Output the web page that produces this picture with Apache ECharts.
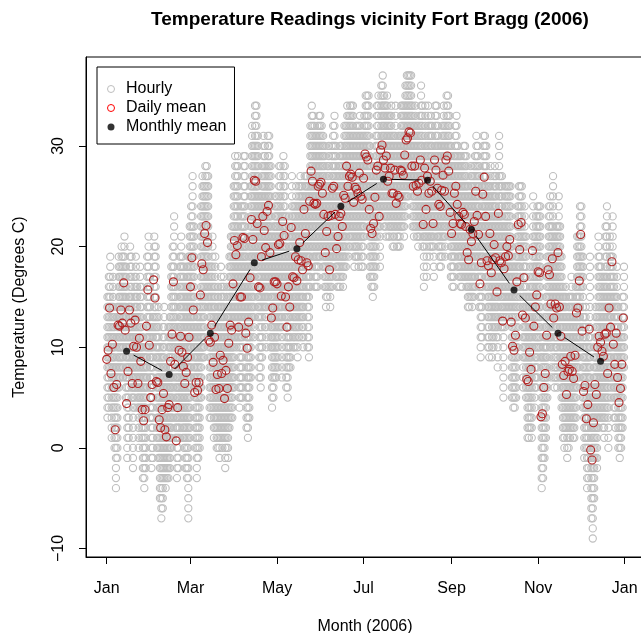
<!DOCTYPE html>
<html><head><meta charset="utf-8">
<script src="https://cdn.jsdelivr.net/npm/echarts@6/dist/echarts.min.js"></script>
<style>html,body{margin:0;padding:0;background:#fff}#c{width:641px;height:633px}</style>
</head><body><div id="c"></div>
<script>
// ---- axis tick data ----
const monthTickDays = [0, 59, 120, 181, 243, 304, 365];
const monthTickLabels = ['Jan', 'Mar', 'May', 'Jul', 'Sep', 'Nov', 'Jan'];
const yTicks = [-10, 0, 10, 20, 30];
const yTickLabels = ['\u221210', '0', '10', '20', '30'];

// ---- monthly means (plotted on the 15th, day-of-year index) ----
const monthlyDay = [14, 44, 73, 104, 134, 165, 195, 226, 257, 287, 318, 348];
const monthlyMean = [9.6, 7.3, 11.4, 18.4, 19.8, 24.0, 26.7, 26.6, 21.7, 15.7, 11.4, 8.6];

// ---- daily means, day index 0 = Jan 1 2006 ----
const dailyMean = [
 8.8,9.7,13.9,7.4,10.3,6.0,1.8,6.3,12.2,12.1, 13.7,12.4,16.4,11.7,4.4,7.6,13.7,12.4,6.4,10.1, 12.7,10.0,6.4,10.9,8.6,3.8,2.7,3.8,12.1,15.7, 10.2,
 5.0,6.3,16.7,14.9,6.6,6.5,2.8,2.0,3.8,5.4, 1.8,1.1,4.0,4.3,8.6,11.3,16.5,8.3,0.7,4.0, 9.7,11.1,9.5,8.1,6.4,7.5,9.0,11.0,
 16.0,18.9,13.7,5.5,6.5,5.7,6.5,15.2,18.3,17.7, 21.3,22.1,20.4,10.7,10.5,12.2,8.5,11.0,5.8,7.3, 5.9,9.2,7.4,8.7,4.9,7.7,5.9,10.4,12.2,11.7, 16.3,
 20.6,19.2,20.1,12.0,15.0,15.0,20.9,20.8,11.4,9.9, 12.5,16.9,22.7,20.7,26.6,26.5,22.3,16.0,15.9,19.0, 23.0,21.6,19.9,23.5,24.1,19.4,12.9,13.9,16.5,16.5,
 16.3,20.2,20.3,15.1,22.5,21.1,15.0,12.0,16.0,14.0, 21.9,17.0,16.9,19.0,16.6,18.7,20.4,18.6,17.7,23.7, 21.3,18.4,18.1,24.5,27.5,26.5,24.3,24.2,24.3,26.0, 26.2,
 26.4,25.3,23.2,19.4,21.5,23.0,17.7,23.1,25.8,26.0, 23.2,19.8,21.0,23.0,23.3,22.0,25.1,24.8,28.0,26.0, 27.0,27.2,26.9,24.4,25.9,25.7,25.3,27.3,25.0,24.7,
 26.8,29.2,28.9,28.6,23.7,21.8,21.3,22.3,24.9,27.6, 28.0,23.0,29.6,30.1,28.6,27.8,29.0,26.5,27.0,27.8, 25.3,25.3,27.6,24.3,25.1,24.9,27.6,27.5,27.1,29.1, 30.6,
 30.8,31.4,31.3,28.0,26.0,28.0,26.1,25.5,26.3,28.6, 26.6,22.2,27.8,23.7,27.0,25.3,26.5,25.5,22.3,28.6, 27.6,25.8,24.2,24.0,25.6,27.1,25.5,28.6,29.0,27.5, 23.4,
 21.3,22.3,25.3,26.0,24.2,23.0,22.3,22.2,23.4,23.2, 22.0,19.4,18.7,21.7,20.5,21.3,22.5,25.5,23.1,21.2, 16.3,18.4,25.2,26.9,23.0,18.6,18.1,21.3,17.4,18.7,
 20.2,18.9,15.5,23.3,18.6,18.4,12.6,17.8,19.0,20.0, 19.1,20.7,12.5,10.1,9.7,11.2,16.5,22.2,19.7,22.4, 13.2,16.9,12.9,6.8,6.6,9.5,7.8,19.6,12.1,14.0, 15.2,
 17.5,17.4,3.1,3.4,6.0,7.4,11.2,17.7,17.2,14.3, 18.8,12.9,14.3,13.9,19.4,14.0,11.1,8.3,7.2,8.6, 5.3,7.6,7.8,9.1,7.6,6.9,9.2,13.4,13.9,16.6,
 21.2,11.6,5.6,6.2,2.9,4.3,11.8,-0.2,-1.2,2.5, 6.3,5.3,10.0,11.1,10.5,9.6,9.1,11.3,11.4,7.4, 13.9,12.0,18.5,10.3,8.3,11.4,7.0,4.5,5.9,8.3, 12.9
];

// ---- hourly readings: lowest and highest whole-degree reading of each day ----
const hourlyHigh = [
 15,17,19,14,17,13,8,14,19,18, 20,19,21,18,11,15,20,19,13,17, 19,16,13,18,16,11,9,10,19,21, 17,
 12,13,21,20,13,14,10,9,12,14, 8,7,12,13,18,20,23,16,7,12, 19,21,19,18,16,18,19,22,
 24,27,22,12,14,13,15,24,27,26, 28,28,27,18,18,21,16,19,13,16, 14,18,16,17,12,16,14,19,21,22, 26,
 29,28,29,20,24,24,29,29,20,18, 21,26,32,30,34,34,31,25,25,28, 31,30,28,31,31,28,21,22,25,25,
 24,28,28,23,29,28,23,19,23,21, 27,24,24,26,24,26,27,26,25,27, 27,27,26,32,34,33,32,31,32,33, 33,
 32,31,30,26,28,30,25,30,32,33, 30,27,28,30,30,29,32,32,34,33, 34,34,34,31,32,32,32,33,31,31,
 33,35,35,35,30,28,27,28,31,34, 35,29,36,37,35,34,35,33,33,34, 31,31,34,30,31,31,34,34,34,36, 37,
 37,37,37,34,32,34,32,32,33,36, 34,28,34,30,34,32,33,32,28,34, 34,32,30,30,32,34,32,35,35,33, 30,
 28,29,32,33,30,29,29,28,30,30, 29,26,25,28,27,28,29,31,30,28, 23,26,31,31,30,26,26,28,25,27,
 28,27,23,31,27,27,22,26,26,26, 26,26,20,18,18,19,24,26,26,26, 21,24,21,15,15,18,16,25,21,23, 24,
 24,24,9,10,13,15,19,24,25,22, 27,21,22,22,25,22,19,16,15,16, 13,15,15,17,15,14,16,21,21,24,
 24,19,13,14,10,12,19,6,5,10, 14,13,21,19,18,17,17,22,24,15, 21,19,23,17,15,18,14,11,12,15, 18
];
const hourlyLow = [
 3,4,8,1,4,0,-4,-1,6,7, 8,7,11,5,-1,1,8,5,-2,4, 6,4,0,4,1,-3,-4,-2,6,10, 3,
 -2,-1,12,9,0,-1,-5,-7,-6,-3, -4,-3,-3,-2,0,3,10,1,-3,-2, 1,3,1,0,-2,-3,-7,1,
 6,11,7,0,-3,-1,0,5,9,9, 14,16,14,3,3,4,1,2,0,0, -1,1,0,1,-2,0,-1,2,3,3, 6,
 11,10,11,4,5,5,12,12,2,1, 3,7,13,11,19,18,13,7,6,9, 14,12,10,15,16,10,4,5,7,7,
 8,12,12,7,15,13,6,5,8,8, 16,10,10,12,9,11,13,11,10,19, 15,10,9,16,20,19,16,16,16,18, 19,
 20,18,16,14,15,16,14,16,19,19, 17,16,16,16,17,16,18,18,22,19, 20,21,20,18,19,19,18,21,18,18,
 21,23,23,22,17,16,15,16,18,21, 22,18,23,24,22,21,23,21,21,22, 20,20,22,20,20,20,22,22,21,23, 25,
 25,26,26,22,21,22,21,20,21,22, 20,16,21,17,21,19,20,20,17,22, 21,20,18,18,19,21,19,22,23,21, 17,
 16,16,19,20,18,17,16,16,17,17, 16,14,14,15,14,15,16,19,17,14, 9,11,18,21,16,10,9,13,9,10,
 12,11,8,16,12,12,5,12,13,14, 13,14,5,4,4,5,9,18,14,19, 6,9,5,1,1,2,1,14,4,6, 7,
 10,9,-4,-3,-1,1,5,11,10,7, 12,6,7,6,13,7,4,1,0,2, -1,0,1,2,1,1,3,6,7,10,
 16,4,-1,0,-4,-3,4,-7,-9,-5, -1,-2,2,3,3,2,1,3,4,0, 7,5,14,3,2,5,0,-1,0,2, 8
];

if (dailyMean.length !== 365 || hourlyHigh.length !== 365 || hourlyLow.length !== 365) {
  throw new Error('length mismatch ' + dailyMean.length + ' ' + hourlyHigh.length + ' ' + hourlyLow.length);
}

const FONT = '"Liberation Sans", Arial, Helvetica, sans-serif';
const GRAY = '#bebebe', DAILY = '#b22222';

const hourlyData = dailyMean.map((_, d) => [d, hourlyLow[d], hourlyHigh[d]]);
const dailyData = dailyMean.map((v, d) => [d, v]);
const monthlyData = monthlyMean.map((v, i) => [monthlyDay[i], v]);
const segData = monthlyData.slice(0, -1).map((p, i) => [p[0], p[1], monthlyData[i + 1][0], monthlyData[i + 1][1]]);

const chart = echarts.init(document.getElementById('c'), null, {renderer: 'canvas', width: 641, height: 633});

chart.setOption({
  animation: false,
  backgroundColor: '#fff',
  title: {
    text: 'Temperature Readings vicinity Fort Bragg (2006)',
    left: 365, top: 5, textAlign: 'center',
    textStyle: {fontFamily: FONT, fontSize: 19, fontWeight: 'bold', color: '#000'}
  },
  legend: {
    orient: 'vertical', left: 97, top: 67,
    padding: [14, 8, 9, 10], itemGap: 3, itemWidth: 20, itemHeight: 7,
    borderColor: '#000', borderWidth: 1, borderRadius: 0, backgroundColor: '#fff',
    selectedMode: false,
    textStyle: {fontFamily: FONT, fontSize: 16, color: '#000'},
    data: [
      {name: 'Hourly', icon: 'circle', itemStyle: {color: 'rgba(0,0,0,0)', borderColor: GRAY, borderWidth: 1}},
      {name: 'Daily mean', icon: 'circle', itemStyle: {color: 'rgba(0,0,0,0)', borderColor: '#ff0000', borderWidth: 1}},
      {name: 'Monthly mean', icon: 'circle', itemStyle: {color: '#000', borderWidth: 0}}
    ]
  },
  grid: {left: 86, top: 57, width: 558, height: 500, show: true, borderColor: '#000', borderWidth: 1, outerBoundsMode: 'none'},
  xAxis: {
    type: 'value', min: -14.6, max: 378.6,
    axisLine: {show: true, onZero: false, lineStyle: {color: '#000', width: 1}},
    axisTick: {show: true, inside: false, length: 7, customValues: monthTickDays, lineStyle: {color: '#000'}},
    axisLabel: {customValues: monthTickDays, formatter: v => monthTickLabels[monthTickDays.indexOf(v)],
      margin: 24, fontFamily: FONT, fontSize: 16, color: '#000'},
    splitLine: {show: false},
    name: 'Month (2006)', nameLocation: 'middle', nameGap: 62,
    nameTextStyle: {fontFamily: FONT, fontSize: 16, color: '#000'}
  },
  yAxis: {
    type: 'value', min: -10.84, max: 38.84,
    axisLine: {show: true, onZero: false, lineStyle: {color: '#000', width: 1}},
    axisTick: {show: true, inside: false, length: 7, customValues: yTicks, lineStyle: {color: '#000'}},
    axisLabel: {customValues: yTicks, rotate: 90, formatter: v => yTickLabels[yTicks.indexOf(v)],
      margin: 19, fontFamily: FONT, fontSize: 16, color: '#000'},
    splitLine: {show: false},
    name: 'Temperature (Degrees C)', nameLocation: 'middle', nameRotate: 90, nameGap: 58,
    nameTextStyle: {fontFamily: FONT, fontSize: 16, color: '#000'}
  },
  series: [
    {
      name: 'Hourly', type: 'custom', z: 2, silent: true,
      itemStyle: {color: GRAY},
      encode: {x: 0, y: [1, 2]},
      data: hourlyData,
      renderItem: function (params, api) {
        const d = api.value(0), lo = api.value(1), hi = api.value(2);
        const children = [];
        for (let t = lo; t <= hi; t++) {
          const c = api.coord([d + 0.5, t]);
          children.push({type: 'circle', shape: {cx: c[0], cy: c[1], r: 3.6},
            style: {fill: 'none', stroke: GRAY, lineWidth: 1.1}});
        }
        return {type: 'group', children: children};
      }
    },
    {
      name: 'Daily mean', type: 'scatter', z: 3, silent: true,
      symbol: 'circle', symbolSize: 8,
      itemStyle: {color: 'rgba(0,0,0,0)', borderColor: DAILY, borderWidth: 1.1, opacity: 1},
      data: dailyData
    },
    {
      name: 'Monthly line', type: 'custom', z: 4, silent: true,
      encode: {x: [0, 2], y: [1, 3]},
      data: segData,
      renderItem: function (params, api) {
        const a = api.coord([api.value(0), api.value(1)]);
        const b = api.coord([api.value(2), api.value(3)]);
        const dx = b[0] - a[0], dy = b[1] - a[1];
        const L = Math.hypot(dx, dy), g = 8;
        if (L <= 2 * g) return null;
        const ux = dx / L, uy = dy / L;
        return {type: 'line', shape: {x1: a[0] + ux * g, y1: a[1] + uy * g, x2: b[0] - ux * g, y2: b[1] - uy * g},
          style: {stroke: '#000', lineWidth: 1}};
      }
    },
    {
      name: 'Monthly mean', type: 'scatter', z: 5, silent: true,
      symbol: 'circle', symbolSize: 7,
      itemStyle: {color: '#000'},
      data: monthlyData
    }
  ]
});
</script>
</body></html>
